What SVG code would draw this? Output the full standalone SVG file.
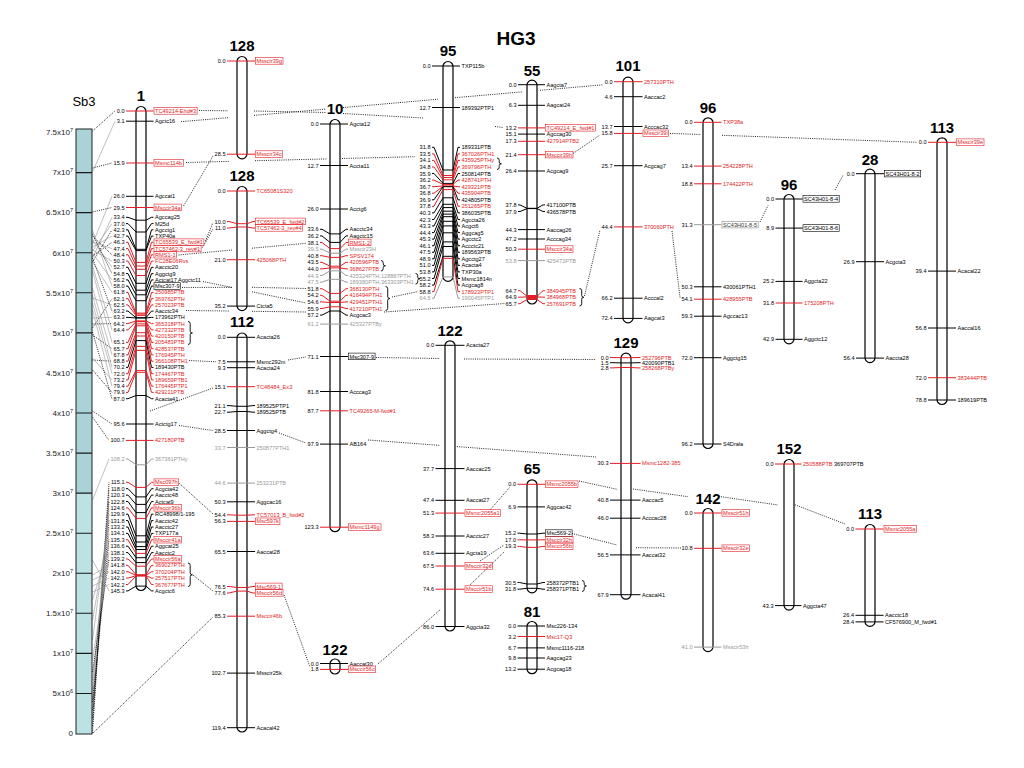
<svg xmlns="http://www.w3.org/2000/svg" width="1024" height="768" viewBox="0 0 1024 768">
<style>
text{font-family:"Liberation Sans",Arial,Helvetica,sans-serif;fill:#000}
.t{font-size:15px;font-weight:bold;text-anchor:middle}
.n{font-size:5.6px;text-anchor:end}
.m{font-size:5.6px}
.tr{fill:#e31e25}
.tg{fill:#999}
.b{fill:#fff;stroke:#000;stroke-width:1.2}
.k{fill:none;stroke:#000;stroke-width:1}
.k.r{stroke:#e31e25}
.k.g{stroke:#999}
.x{fill:none;stroke:#e31e25;stroke-width:0.6}
.xb{fill:none;stroke:#000;stroke-width:0.6}
.xg{fill:none;stroke:#888;stroke-width:0.6}
.c{fill:none;stroke:#000;stroke-width:0.85;stroke-dasharray:1 1.2}
.s{fill:none;stroke:#8c8c8c;stroke-width:0.55}
.br{fill:none;stroke:#000;stroke-width:0.9}
.ax{font-size:8px;text-anchor:end;fill:#222}
.ax tspan{font-size:5.5px}
</style>
<rect width="1024" height="768" fill="#fff"/>
<text x="516" y="45" style="font-size:19px;font-weight:bold;text-anchor:middle">HG3</text>

<g id="connectors">
<path class="c" d="M92.5,131L115,111"/>
<path class="s" d="M92.5,172L115,121.2"/>
<path class="c" d="M92.5,168L112,163"/>
<path class="s" d="M92.5,244L112,196.3"/>
<path class="c" d="M92.5,212L112,207.5"/>
<path class="s" d="M92.5,258L112,217.3M92.5,251L112,223.6"/>
<path class="c" d="M92.5,262L112,229.8"/>
<path class="s" d="M92.5,247L112,236.1"/>
<path class="c" d="M92.5,256L112,242.3"/>
<path class="s" d="M92.5,242L112,248.6"/>
<path class="c" d="M92.5,236L112,254.8"/>
<path class="s" d="M92.5,250L112,261.1M92.5,240L112,267.3"/>
<path class="c" d="M92.5,234L112,273.6"/>
<path class="s" d="M92.5,253L112,279.9M92.5,230L112,286.1M92.5,262L112,292.4"/>
<path class="c" d="M92.5,328L112,298.6"/>
<path class="s" d="M92.5,298L112,304.9"/>
<path class="c" d="M92.5,258L112,311.1"/>
<path class="s" d="M92.5,318L112,317.4"/>
<path class="c" d="M92.5,324L112,323.6"/>
<path class="s" d="M92.5,266L112,329.9M92.5,271L112,342.4"/>
<path class="c" d="M92.5,335L112,348.7"/>
<path class="s" d="M92.5,288L112,354.9"/>
<path class="c" d="M92.5,360L112,361.2"/>
<path class="s" d="M92.5,295L112,367.4M92.5,303L112,373.7M92.5,358L112,379.9M92.5,310L112,386.2"/>
<path class="c" d="M92.5,370L112,392.4M92.5,332L112,398.7M92.5,411L112,424M92.5,417L109,440.4"/>
<path class="s" d="M92.5,500L109,459"/>
<path class="c" d="M92.5,733L109,482.3M92.5,726L109,488.7"/>
<path class="s" d="M92.5,700L109,495.1"/>
<path class="c" d="M92.5,718L109,501.5"/>
<path class="s" d="M92.5,690L109,507.9M92.5,640L109,514.2"/>
<path class="c" d="M92.5,710L109,520.6"/>
<path class="s" d="M92.5,620L109,527M92.5,680L109,533.4"/>
<path class="c" d="M92.5,702L109,539.8"/>
<path class="s" d="M92.5,600L109,546.2M92.5,660L109,552.6"/>
<path class="c" d="M92.5,672L109,559"/>
<path class="s" d="M92.5,575L109,565.3M92.5,580L109,571.7M92.5,586L109,578.1M92.5,592L109,584.5M92.5,560L109,590.9"/>

<path class="c" d="M199,110.5L228,110.8M254,111L326,112.5M343,113.5L423,118M495,126.5L503,127.5"/>
<path class="c" d="M181,121.7L229,117.6M254,115.4L326,109.1M343,107.6L438,99.2M455,97.7L522,91.9M540,90.3L603,84.8"/>
<path class="c" d="M183.5,206L213,156"/>
<path class="c" d="M186,162.5L229,161.4M255,160.7L327,158.9M342,158.5L415,156.7"/>
<path class="c" d="M205.5,241L213,222.5"/>
<path class="c" d="M202.5,247.5L213,229"/>
<path class="c" d="M178.5,255L232,250M252,248.2L306,243.3"/>
<path class="c" d="M203,281.5L232,287.5M252,291.8L306,303"/>
<path class="c" d="M182,287.5L232,287.3M252,287.3L306,288.5"/>
<path class="c" d="M186,310.5L229,311M252,311.3L306,312"/>
<path class="c" d="M384,312L505,303.5"/>
<path class="c" d="M392,297L418,291.6"/>
<path class="c" d="M573,153.5L600,135"/>
<path class="c" d="M670,133.4L701,134.5M722,135.3L917,142.3"/>
<path class="c" d="M672,231L680,297.5"/>
<path class="c" d="M584.5,296L600,230"/>
<path class="c" d="M760,222L768,205.5"/>
<path class="c" d="M835,190L843.5,174.5"/>
<path class="c" d="M368,440L440,445.4M457,446.6L596,457"/>
<path class="c" d="M376,357.5L440,358.5M464,359L596,359.5"/>
<path class="c" d="M189,360.5L216,361.8"/>
<path class="c" d="M288,360L306,357"/>
<path class="c" d="M150,411L213,388"/>
<path class="c" d="M179,425.5L213,430.5"/>
<path class="c" d="M279,433L306,443"/>
<path class="c" d="M179.5,483.5L213,514"/>
<path class="c" d="M193,575L213,591"/>
<path class="c" d="M284,595L310,667"/>
<path class="c" d="M93,733L213,617"/>
<path class="c" d="M378,664L441,609"/>
<path class="c" d="M490,510L510,487"/>
<path class="c" d="M480,561L504,545"/>
<path class="c" d="M470,585L504,552"/>
<path class="c" d="M579,481L617,489.3M633,489L688,496.7M721,496.7L778,505M793,504L845,524"/>
<path class="c" d="M572,533.5L617,545M636,547.7L681,548"/>
</g>

<g id="sb3">
<text x="84" y="106" style="font-size:13px;text-anchor:middle">Sb3</text>
<rect x="76" y="129" width="16" height="364" fill="#a9d3d8"/>
<rect x="76" y="493" width="16" height="241" fill="#bde2e5"/>
<path d="M76,172.6H92M76,212.6H92M76,252.7H92M76,292.8H92M76,332.9H92M76,372.9H92M76,413H92M76,453.1H92M76,493.1H92M76,533.2H92M76,573.3H92M76,613.3H92M76,653.4H92M76,693.5H92" stroke="#1a1a1a" stroke-width="1.1"/>
<rect x="76" y="129" width="16" height="605" fill="none" stroke="#222" stroke-width="1"/>
<text class="ax" x="73" y="135.3">7.5x10<tspan dy="-3">7</tspan></text>
<text class="ax" x="73" y="175.4">7x10<tspan dy="-3">7</tspan></text>
<text class="ax" x="73" y="215.4">6.5x10<tspan dy="-3">7</tspan></text>
<text class="ax" x="73" y="255.5">6x10<tspan dy="-3">7</tspan></text>
<text class="ax" x="73" y="295.6">5.5x10<tspan dy="-3">7</tspan></text>
<text class="ax" x="73" y="335.7">5x10<tspan dy="-3">7</tspan></text>
<text class="ax" x="73" y="375.7">4.5x10<tspan dy="-3">7</tspan></text>
<text class="ax" x="73" y="415.8">4x10<tspan dy="-3">7</tspan></text>
<text class="ax" x="73" y="455.9">3.5x10<tspan dy="-3">7</tspan></text>
<text class="ax" x="73" y="495.9">3x10<tspan dy="-3">7</tspan></text>
<text class="ax" x="73" y="536">2.5x10<tspan dy="-3">7</tspan></text>
<text class="ax" x="73" y="576.1">2x10<tspan dy="-3">7</tspan></text>
<text class="ax" x="73" y="616.1">1.5x10<tspan dy="-3">7</tspan></text>
<text class="ax" x="73" y="656.2">1x10<tspan dy="-3">7</tspan></text>
<text class="ax" x="73" y="696.3">5x10<tspan dy="-3">6</tspan></text>
<text class="ax" x="73" y="736.3">0</text>
</g>

<g id="chr1">
<rect class="b" x="136" y="106.5" width="10" height="484" rx="5"/>
<text class="t" x="141" y="101">1</text>
<path class="k r" d="M126,111H153.5"/><text class="n" x="124.5" y="113">0.0</text><text class="m tr" x="155" y="113">TC49214-Ehd#3</text><rect class="x" x="154" y="107.6" width="43.1" height="6.6"/>
<path class="k" d="M126,121.2H153.5"/><text class="n" x="124.5" y="123.2">3.1</text><text class="m" x="155" y="123.2">Agctc16</text>
<path class="k r" d="M126,163H153.5"/><text class="n" x="124.5" y="165">15.9</text><text class="m tr" x="155" y="165">Msmc114b</text><rect class="x" x="154" y="159.6" width="29.4" height="6.6"/>
<path class="k" d="M126,196.3H153.5"/><text class="n" x="124.5" y="198.3">26.0</text><text class="m" x="155" y="198.3">Agccat1</text>
<path class="k r" d="M126,207.5H153.5"/><text class="n" x="124.5" y="209.5">29.5</text><text class="m tr" x="155" y="209.5">Msccir34a</text><rect class="x" x="154" y="204.1" width="27.5" height="6.6"/>
<path class="k" d="M126,217.3H128L136,220.2H146L151.5,217.3H153.5"/><text class="n" x="124.5" y="219.3">33.4</text><text class="m" x="155" y="219.3">Agccag25</text>
<path class="k" d="M126,223.6H128L136,232H146L151.5,223.6H153.5"/><text class="n" x="124.5" y="225.6">37.0</text><text class="m" x="155" y="225.6">M25d</text>
<path class="k" d="M126,229.8H128L136,249.3H146L151.5,229.8H153.5"/><text class="n" x="124.5" y="231.8">42.3</text><text class="m" x="155" y="231.8">Agcctg1</text>
<path class="k" d="M126,236.1H128L136,250.6H146L151.5,236.1H153.5"/><text class="n" x="124.5" y="238.1">42.7</text><text class="m" x="155" y="238.1">TXP40a</text>
<path class="k r" d="M126,242.3H128L136,262.4H146L151.5,242.3H153.5"/><text class="n" x="124.5" y="244.3">46.3</text><text class="m tr" x="155" y="244.3">TC65539_E_fwd#1</text><rect class="x" x="154" y="238.9" width="49.9" height="6.6"/>
<path class="k r" d="M126,248.6H128L136,266H146L151.5,248.6H153.5"/><text class="n" x="124.5" y="250.6">47.4</text><text class="m tr" x="155" y="250.6">TC57462-3_rev#1</text><rect class="x" x="154" y="245.2" width="47.1" height="6.6"/>
<path class="k r" d="M126,254.8H128L136,269.3H146L151.5,254.8H153.5"/><text class="n" x="124.5" y="256.8">48.4</text><text class="m tr" x="155" y="256.8">RMS1-1</text><rect class="x" x="154" y="251.4" width="22.5" height="6.6"/>
<path class="k r" d="M126,261.1H128L136,275.5H146L151.5,261.1H153.5"/><text class="n" x="124.5" y="263.1">50.3</text><text class="m tr" x="155" y="263.1">FC28E06Rvs</text>
<path class="k" d="M126,267.3H128L136,283.3H146L151.5,267.3H153.5"/><text class="n" x="124.5" y="269.3">52.7</text><text class="m" x="155" y="269.3">Aacctc20</text>
<path class="k" d="M126,273.6H128L136,290.2H146L151.5,273.6H153.5"/><text class="n" x="124.5" y="275.6">54.8</text><text class="m" x="155" y="275.6">Aggctg9</text>
<path class="k" d="M126,279.9H128L136,294.8H146L151.5,279.9H153.5"/><text class="n" x="124.5" y="281.9">56.2</text><text class="m" x="155" y="281.9">Actcat17 Aggctc11</text>
<path class="k" d="M126,286.1H128L136,300.7H146L151.5,286.1H153.5"/><text class="n" x="124.5" y="288.1">58.0</text><text class="m" x="155" y="288.1">Msc307-9</text><rect class="xb" x="154" y="282.7" width="26.6" height="6.6"/>
<path class="k r" d="M126,292.4H128L136,313.1H146L151.5,292.4H153.5"/><text class="n" x="124.5" y="294.4">61.8</text><text class="m tr" x="155" y="294.4">250985PTB</text>
<path class="k r" d="M126,298.6H128L136,314.1H146L151.5,298.6H153.5"/><text class="n" x="124.5" y="300.6">62.1</text><text class="m tr" x="155" y="300.6">369762PTH</text>
<path class="k r" d="M126,304.9H128L136,315.4H146L151.5,304.9H153.5"/><text class="n" x="124.5" y="306.9">62.5</text><text class="m tr" x="155" y="306.9">257023PTB</text>
<path class="k" d="M126,311.1H128L136,317.7H146L151.5,311.1H153.5"/><text class="n" x="124.5" y="313.1">63.2</text><text class="m" x="155" y="313.1">Aacctc34</text>
<path class="k" d="M126,317.4H128L136,318H146L151.5,317.4H153.5"/><text class="n" x="124.5" y="319.4">63.3</text><text class="m" x="155" y="319.4">173962PTH</text>
<path class="k r" d="M126,323.6H128L136,320.9H146L151.5,323.6H153.5"/><text class="n" x="124.5" y="325.6">64.2</text><text class="m tr" x="155" y="325.6">365318PTH</text>
<path class="k r" d="M126,329.9H128L136,321.6H146L151.5,329.9H153.5"/><text class="n" x="124.5" y="331.9">64.4</text><text class="m tr" x="155" y="331.9">427332PTB</text>
<path class="k r" d="M136,321.6H146L151.5,336.1H153.5"/><text class="m tr" x="155" y="338.1">420150PTB</text>
<path class="k r" d="M126,342.4H128L136,323.9H146L151.5,342.4H153.5"/><text class="n" x="124.5" y="344.4">65.1</text><text class="m tr" x="155" y="344.4">205483PTB</text>
<path class="k r" d="M126,348.7H128L136,325.8H146L151.5,348.7H153.5"/><text class="n" x="124.5" y="350.7">65.7</text><text class="m tr" x="155" y="350.7">428537PTB</text>
<path class="k r" d="M126,354.9H128L136,332.7H146L151.5,354.9H153.5"/><text class="n" x="124.5" y="356.9">67.8</text><text class="m tr" x="155" y="356.9">176945PTH</text>
<path class="k r" d="M126,361.2H128L136,336H146L151.5,361.2H153.5"/><text class="n" x="124.5" y="363.2">68.8</text><text class="m tr" x="155" y="363.2">366108PTH1</text>
<path class="k" d="M126,367.4H128L136,340.6H146L151.5,367.4H153.5"/><text class="n" x="124.5" y="369.4">70.2</text><text class="m" x="155" y="369.4">189430PTB</text>
<path class="k r" d="M126,373.7H128L136,346.4H146L151.5,373.7H153.5"/><text class="n" x="124.5" y="375.7">72.0</text><text class="m tr" x="155" y="375.7">174467PTB</text>
<path class="k r" d="M126,379.9H128L136,350.4H146L151.5,379.9H153.5"/><text class="n" x="124.5" y="381.9">73.2</text><text class="m tr" x="155" y="381.9">189659PTB1</text>
<path class="k r" d="M126,386.2H128L136,370.6H146L151.5,386.2H153.5"/><text class="n" x="124.5" y="388.2">79.4</text><text class="m tr" x="155" y="388.2">176445PTP1</text>
<path class="k r" d="M126,392.4H128L136,372.3H146L151.5,392.4H153.5"/><text class="n" x="124.5" y="394.4">79.9</text><text class="m tr" x="155" y="394.4">429211PTB</text>
<path class="k" d="M126,398.7H128L136,395.5H146L151.5,398.7H153.5"/><text class="n" x="124.5" y="400.7">87.0</text><text class="m" x="155" y="400.7">Acacta41</text>
<path class="k" d="M126,424H153.5"/><text class="n" x="124.5" y="426">95.6</text><text class="m" x="155" y="426">Actctg17</text>
<path class="k r" d="M126,440.4H153.5"/><text class="n" x="124.5" y="442.4">100.7</text><text class="m tr" x="155" y="442.4">427180PTB</text>
<path class="k g" d="M126,459H128L136,464.8H146L151.5,459H153.5"/><text class="n tg" x="124.5" y="461">108.2</text><text class="m tg" x="155" y="461">367361PTHy</text>
<path class="k r" d="M126,482.3H128L136,487.4H146L151.5,482.3H153.5"/><text class="n" x="124.5" y="484.3">115.1</text><text class="m tr" x="155" y="484.3">Msc097h</text><rect class="x" x="154" y="478.9" width="24.7" height="6.6"/>
<path class="k" d="M126,488.7H128L136,496.9H146L151.5,488.7H153.5"/><text class="n" x="124.5" y="490.7">118.0</text><text class="m" x="155" y="490.7">Acgcta42</text>
<path class="k" d="M126,495.1H128L136,504.4H146L151.5,495.1H153.5"/><text class="n" x="124.5" y="497.1">120.3</text><text class="m" x="155" y="497.1">Aacctc48</text>
<path class="k" d="M126,501.5H128L136,512.6H146L151.5,501.5H153.5"/><text class="n" x="124.5" y="503.5">122.8</text><text class="m" x="155" y="503.5">Actcat9</text>
<path class="k r" d="M126,507.9H128L136,518.4H146L151.5,507.9H153.5"/><text class="n" x="124.5" y="509.9">124.6</text><text class="m tr" x="155" y="509.9">Msccir36b</text><rect class="x" x="154" y="504.5" width="27.5" height="6.6"/>
<path class="k" d="M126,514.2H128L136,535.8H146L151.5,514.2H153.5"/><text class="n" x="124.5" y="516.2">129.9</text><text class="m" x="155" y="516.2">RC48998/1-195</text>
<path class="k" d="M126,520.6H128L136,542H146L151.5,520.6H153.5"/><text class="n" x="124.5" y="522.6">131.8</text><text class="m" x="155" y="522.6">Aacctc42</text>
<path class="k" d="M126,527H128L136,546.6H146L151.5,527H153.5"/><text class="n" x="124.5" y="529">133.2</text><text class="m" x="155" y="529">Aacctc27</text>
<path class="k" d="M126,533.4H128L136,549.5H146L151.5,533.4H153.5"/><text class="n" x="124.5" y="535.4">134.1</text><text class="m" x="155" y="535.4">TXP177a</text>
<path class="k r" d="M126,539.8H128L136,553.4H146L151.5,539.8H153.5"/><text class="n" x="124.5" y="541.8">135.3</text><text class="m tr" x="155" y="541.8">Msccir41a</text><rect class="x" x="154" y="536.4" width="27.5" height="6.6"/>
<path class="k" d="M126,546.2H128L136,557.7H146L151.5,546.2H153.5"/><text class="n" x="124.5" y="548.2">136.6</text><text class="m" x="155" y="548.2">Aggcat25</text>
<path class="k" d="M126,552.6H128L136,562.6H146L151.5,552.6H153.5"/><text class="n" x="124.5" y="554.6">138.1</text><text class="m" x="155" y="554.6">Aacctc2</text>
<path class="k r" d="M126,559H128L136,566.2H146L151.5,559H153.5"/><text class="n" x="124.5" y="561">139.2</text><text class="m tr" x="155" y="561">Msccir56a</text><rect class="x" x="154" y="555.6" width="27.5" height="6.6"/>
<path class="k r" d="M126,565.3H128L136,574.7H146L151.5,565.3H153.5"/><text class="n" x="124.5" y="567.3">141.8</text><text class="m tr" x="155" y="567.3">369027PTH</text>
<path class="k r" d="M126,571.7H128L136,575.3H146L151.5,571.7H153.5"/><text class="n" x="124.5" y="573.7">142.0</text><text class="m tr" x="155" y="573.7">370204PTH</text>
<path class="k r" d="M126,578.1H128L136,575.7H146L151.5,578.1H153.5"/><text class="n" x="124.5" y="580.1">142.1</text><text class="m tr" x="155" y="580.1">257517PTH</text>
<path class="k r" d="M126,584.5H128L136,576H146L151.5,584.5H153.5"/><text class="n" x="124.5" y="586.5">142.2</text><text class="m tr" x="155" y="586.5">367677PTH</text>
<path class="k" d="M126,590.9H128L136,586.1H146L151.5,590.9H153.5"/><text class="n" x="124.5" y="592.9">145.3</text><text class="m" x="155" y="592.9">Acgctc6</text>
<path class="br" d="M188,321.5q2.2,0 2.2,2.2V331.2q0,1.8 2.2,1.8q-2.2,0 -2.2,1.8V342.3q0,2.2 -2.2,2.2"/>
<path class="br" d="M188,563q2.2,0 2.2,2.2V573q0,1.8 2.2,1.8q-2.2,0 -2.2,1.8V584.3q0,2.2 -2.2,2.2"/>
</g>

<g id="chr128a">
<rect class="b" x="237" y="56.5" width="10" height="102.3" rx="5"/>
<text class="t" x="242" y="51">128</text>
<path class="k r" d="M227,61H255"/><text class="n" x="225.5" y="63">0.0</text><text class="m tr" x="256.5" y="63">Msscir39g</text><rect class="x" x="255.5" y="57.6" width="27.5" height="6.6"/>
<path class="k r" d="M227,154.2H255"/><text class="n" x="225.5" y="156.2">28.5</text><text class="m tr" x="256.5" y="156.2">Msscir34c</text><rect class="x" x="255.5" y="150.8" width="27.2" height="6.6"/>
</g>

<g id="chr128b">
<rect class="b" x="237" y="186.5" width="10" height="124.1" rx="5"/>
<text class="t" x="242" y="181">128</text>
<path class="k r" d="M227,191H255"/><text class="n" x="225.5" y="193">0.0</text><text class="m tr" x="256.5" y="193">TC65081S320</text>
<path class="k r" d="M227,221.5H229L237,223.7H247L253,221.5H255"/><text class="n" x="225.5" y="223.5">10.0</text><text class="m tr" x="256.5" y="223.5">TC65539_E_fwd#2</text><rect class="x" x="255.5" y="218.1" width="49.9" height="6.6"/>
<path class="k r" d="M227,228H229L237,227H247L253,228H255"/><text class="n" x="225.5" y="230">11.0</text><text class="m tr" x="256.5" y="230">TC57462-3_rev#4</text><rect class="x" x="255.5" y="224.6" width="47.1" height="6.6"/>
<path class="k r" d="M227,259.7H255"/><text class="n" x="225.5" y="261.7">21.0</text><text class="m tr" x="256.5" y="261.7">425068PTH</text>
<path class="k" d="M227,306.1H255"/><text class="n" x="225.5" y="308.1">35.2</text><text class="m" x="256.5" y="308.1">Ctcta5</text>
</g>

<g id="chr112">
<rect class="b" x="237" y="333" width="10" height="399" rx="5"/>
<text class="t" x="242" y="327">112</text>
<path class="k" d="M227,337.3H255"/><text class="n" x="225.5" y="339.3">0.0</text><text class="m" x="256.5" y="339.3">Acacta26</text>
<path class="k" d="M227,361.8H255"/><text class="n" x="225.5" y="363.8">7.5</text><text class="m" x="256.5" y="363.8">Msmc292m</text>
<path class="k" d="M227,367.7H255"/><text class="n" x="225.5" y="369.7">9.3</text><text class="m" x="256.5" y="369.7">Acacta24</text>
<path class="k r" d="M227,386.7H255"/><text class="n" x="225.5" y="388.7">15.1</text><text class="m tr" x="256.5" y="388.7">TC48484_Ex3</text>
<path class="k" d="M227,405.6H229L237,406.3H247L253,405.6H255"/><text class="n" x="225.5" y="407.6">21.1</text><text class="m" x="256.5" y="407.6">189525PTP1</text>
<path class="k" d="M227,412.2H229L237,411.5H247L253,412.2H255"/><text class="n" x="225.5" y="414.2">22.7</text><text class="m" x="256.5" y="414.2">189525PTB</text>
<path class="k" d="M227,430.5H255"/><text class="n" x="225.5" y="432.5">28.5</text><text class="m" x="256.5" y="432.5">Aggctg4</text>
<path class="k g" d="M227,447.5H255"/><text class="n tg" x="225.5" y="449.5">33.7</text><text class="m tg" x="256.5" y="449.5">250877PTH1</text>
<path class="k g" d="M227,483.1H255"/><text class="n tg" x="225.5" y="485.1">44.6</text><text class="m tg" x="256.5" y="485.1">253231PTB</text>
<path class="k" d="M227,501.8H255"/><text class="n" x="225.5" y="503.8">50.3</text><text class="m" x="256.5" y="503.8">Aggcac16</text>
<path class="k r" d="M227,514.8H229L237,515.2H247L253,514.8H255"/><text class="n" x="225.5" y="516.8">54.4</text><text class="m tr" x="256.5" y="516.8">TC57013_B_fwd#2</text>
<path class="k r" d="M227,521.4H255"/><text class="n" x="225.5" y="523.4">56.3</text><text class="m tr" x="256.5" y="523.4">Msc597k</text><rect class="x" x="255.5" y="518" width="24.4" height="6.6"/>
<path class="k" d="M227,551.5H255"/><text class="n" x="225.5" y="553.5">65.5</text><text class="m" x="256.5" y="553.5">Aaccat28</text>
<path class="k r" d="M227,586.5H229L237,587.5H247L253,586.5H255"/><text class="n" x="225.5" y="588.5">76.5</text><text class="m tr" x="256.5" y="588.5">Msc569-1</text><rect class="x" x="255.5" y="583.1" width="26.6" height="6.6"/>
<path class="k r" d="M227,593H229L237,591.1H247L253,593H255"/><text class="n" x="225.5" y="595">77.6</text><text class="m tr" x="256.5" y="595">Msccir56d</text><rect class="x" x="255.5" y="589.6" width="27.5" height="6.6"/>
<path class="k r" d="M227,616.2H255"/><text class="n" x="225.5" y="618.2">85.3</text><text class="m tr" x="256.5" y="618.2">Msccir46b</text>
<path class="k" d="M227,673.1H255"/><text class="n" x="225.5" y="675.1">102.7</text><text class="m" x="256.5" y="675.1">Msscir25k</text>
<path class="k" d="M227,727.7H255"/><text class="n" x="225.5" y="729.7">119.4</text><text class="m" x="256.5" y="729.7">Acacal42</text>
</g>

<g id="chr10">
<rect class="b" x="330" y="119.5" width="10" height="412.2" rx="5"/>
<text class="t" x="335" y="114">10</text>
<path class="k" d="M320,124H348"/><text class="n" x="318.5" y="126">0.0</text><text class="m" x="349.5" y="126">Agcta12</text>
<path class="k" d="M320,165.5H348"/><text class="n" x="318.5" y="167.5">12.7</text><text class="m" x="349.5" y="167.5">Accta11</text>
<path class="k" d="M320,209H348"/><text class="n" x="318.5" y="211">26.0</text><text class="m" x="349.5" y="211">Acctg6</text>
<path class="k" d="M320,229.3H322L330,233.9H340L346,229.3H348"/><text class="n" x="318.5" y="231.3">33.6</text><text class="m" x="349.5" y="231.3">Aacctc34</text>
<path class="k" d="M320,235.9H322L330,242.4H340L346,235.9H348"/><text class="n" x="318.5" y="237.9">36.2</text><text class="m" x="349.5" y="237.9">Aagctc15</text>
<path class="k r" d="M320,242.5H322L330,248.6H340L346,242.5H348"/><text class="n" x="318.5" y="244.5">38.1</text><text class="m tr" x="349.5" y="244.5">RMS1-2</text><rect class="x" x="348.5" y="239.1" width="22.5" height="6.6"/>
<path class="k g" d="M320,249.1H322L330,253.2H340L346,249.1H348"/><text class="n tg" x="318.5" y="251.1">39.5</text><text class="m tg" x="349.5" y="251.1">Msscir23H</text>
<path class="k r" d="M320,255.7H322L330,257.4H340L346,255.7H348"/><text class="n" x="318.5" y="257.7">40.8</text><text class="m tr" x="349.5" y="257.7">SPSV174</text>
<path class="k r" d="M320,262.3H322L330,266.2H340L346,262.3H348"/><text class="n" x="318.5" y="264.3">43.5</text><text class="m tr" x="349.5" y="264.3">420596PTB</text>
<path class="k r" d="M320,268.9H322L330,267.9H340L346,268.9H348"/><text class="n" x="318.5" y="270.9">44.0</text><text class="m tr" x="349.5" y="270.9">368627PTB</text>
<path class="k g" d="M320,275.5H322L330,270.8H340L346,275.5H348"/><text class="n tg" x="318.5" y="277.5">44.9</text><text class="m tg" x="349.5" y="277.5">435324PTH,128887PTH</text>
<path class="k g" d="M320,282.1H322L330,279.3H340L346,282.1H348"/><text class="n tg" x="318.5" y="284.1">47.5</text><text class="m tg" x="349.5" y="284.1">189380PTH,363303PTH1</text>
<path class="k r" d="M320,288.7H322L330,293.4H340L346,288.7H348"/><text class="n" x="318.5" y="290.7">51.8</text><text class="m tr" x="349.5" y="290.7">368130PTH</text>
<path class="k r" d="M320,295.3H322L330,301.2H340L346,295.3H348"/><text class="n" x="318.5" y="297.3">54.2</text><text class="m tr" x="349.5" y="297.3">416494PTH1</text>
<path class="k r" d="M320,301.9H322L330,302.5H340L346,301.9H348"/><text class="n" x="318.5" y="303.9">54.6</text><text class="m tr" x="349.5" y="303.9">429451PTH1</text>
<path class="k r" d="M320,308.5H322L330,306.8H340L346,308.5H348"/><text class="n" x="318.5" y="310.5">55.9</text><text class="m tr" x="349.5" y="310.5">417210PTH1</text>
<path class="k" d="M320,315.1H322L330,311H340L346,315.1H348"/><text class="n" x="318.5" y="317.1">57.2</text><text class="m" x="349.5" y="317.1">Acgcac3</text>
<path class="k g" d="M320,324.1H348"/><text class="n tg" x="318.5" y="326.1">61.2</text><text class="m tg" x="349.5" y="326.1">425327PTBy</text>
<path class="k" d="M320,356.5H348"/><text class="n" x="318.5" y="358.5">71.1</text><text class="m" x="349.5" y="358.5">Msc307-9</text><rect class="xb" x="348.5" y="353.1" width="26.6" height="6.6"/>
<path class="k" d="M320,391.5H348"/><text class="n" x="318.5" y="393.5">81.8</text><text class="m" x="349.5" y="393.5">Acccag3</text>
<path class="k r" d="M320,410.8H348"/><text class="n" x="318.5" y="412.8">87.7</text><text class="m tr" x="349.5" y="412.8">TC49265-M-fwd#1</text>
<path class="k" d="M320,444.1H348"/><text class="n" x="318.5" y="446.1">97.9</text><text class="m" x="349.5" y="446.1">AB164</text>
<path class="k r" d="M320,527.2H348"/><text class="n" x="318.5" y="529.2">123.3</text><text class="m tr" x="349.5" y="529.2">Msmc1149g</text><rect class="x" x="348.5" y="523.8" width="32.5" height="6.6"/>
<path class="br" d="M381,260.5q2.2,0 2.2,2.2V264q0,1.8 2.2,1.8q-2.2,0 -2.2,1.8V268.8q0,2.2 -2.2,2.2"/>
<path class="br" d="M415.5,273.5q2.2,0 2.2,2.2V277q0,1.8 2.2,1.8q-2.2,0 -2.2,1.8V281.8q0,2.2 -2.2,2.2"/>
<path class="br" d="M385.5,286.5q2.2,0 2.2,2.2V296.7q0,1.8 2.2,1.8q-2.2,0 -2.2,1.8V308.3q0,2.2 -2.2,2.2"/>
</g>

<g id="chr122s">
<rect class="b" x="330" y="659" width="10" height="15" rx="5"/>
<text class="t" x="335" y="655">122</text>
<path class="k" d="M320,663.5H348"/><text class="n" x="318.5" y="665.5">0.0</text><text class="m" x="349.5" y="665.5">Aaccat30</text>
<path class="k r" d="M320,669.4H348"/><text class="n" x="318.5" y="671.4">1.8</text><text class="m tr" x="349.5" y="671.4">Msccir56c</text><rect class="x" x="348.5" y="666" width="27.2" height="6.6"/>
</g>

<g id="chr95">
<rect class="b" x="443" y="61.5" width="10" height="219.9" rx="5"/>
<text class="t" x="448" y="56">95</text>
<path class="k" d="M432,66H460"/><text class="n" x="430.5" y="68">0.0</text><text class="m" x="461.5" y="68">TXP115b</text>
<path class="k" d="M432,107.5H460"/><text class="n" x="430.5" y="109.5">12.7</text><text class="m" x="461.5" y="109.5">189392PTP1</text>
<path class="k" d="M432,147.3H434L443,170H453L458,147.3H460"/><text class="n" x="430.5" y="149.3">31.8</text><text class="m" x="461.5" y="149.3">189331PTB</text>
<path class="k r" d="M432,153.9H434L443,175.5H453L458,153.9H460"/><text class="n" x="430.5" y="155.9">33.5</text><text class="m tr" x="461.5" y="155.9">367026PTH1</text>
<path class="k r" d="M432,160.4H434L443,177.5H453L458,160.4H460"/><text class="n" x="430.5" y="162.4">34.1</text><text class="m tr" x="461.5" y="162.4">435925PTHy</text>
<path class="k r" d="M432,167H434L443,179.8H453L458,167H460"/><text class="n" x="430.5" y="169">34.8</text><text class="m tr" x="461.5" y="169">369796PTH</text>
<path class="k" d="M432,173.5H434L443,183.4H453L458,173.5H460"/><text class="n" x="430.5" y="175.5">35.9</text><text class="m" x="461.5" y="175.5">250814PTB</text>
<path class="k r" d="M432,180.1H434L443,184.4H453L458,180.1H460"/><text class="n" x="430.5" y="182.1">36.2</text><text class="m tr" x="461.5" y="182.1">428741PTH</text>
<path class="k r" d="M432,186.7H434L443,186H453L458,186.7H460"/><text class="n" x="430.5" y="188.7">36.7</text><text class="m tr" x="461.5" y="188.7">429321PTB</text>
<path class="k r" d="M432,193.2H434L443,186.3H453L458,193.2H460"/><text class="n" x="430.5" y="195.2">36.8</text><text class="m tr" x="461.5" y="195.2">435904PTB</text>
<path class="k" d="M432,199.8H434L443,186.7H453L458,199.8H460"/><text class="n" x="430.5" y="201.8">36.9</text><text class="m" x="461.5" y="201.8">424805PTB</text>
<path class="k r" d="M432,206.3H434L443,189.6H453L458,206.3H460"/><text class="n" x="430.5" y="208.3">37.8</text><text class="m tr" x="461.5" y="208.3">251265PTB</text>
<path class="k" d="M432,212.9H434L443,197.8H453L458,212.9H460"/><text class="n" x="430.5" y="214.9">40.3</text><text class="m" x="461.5" y="214.9">386035PTB</text>
<path class="k" d="M432,219.5H434L443,204.3H453L458,219.5H460"/><text class="n" x="430.5" y="221.5">42.3</text><text class="m" x="461.5" y="221.5">Agccta26</text>
<path class="k" d="M432,226H434L443,207.6H453L458,226H460"/><text class="n" x="430.5" y="228">43.3</text><text class="m" x="461.5" y="228">Acgct6</text>
<path class="k" d="M432,232.6H434L443,211.2H453L458,232.6H460"/><text class="n" x="430.5" y="234.6">44.4</text><text class="m" x="461.5" y="234.6">Aggcag5</text>
<path class="k" d="M432,239.1H434L443,214.1H453L458,239.1H460"/><text class="n" x="430.5" y="241.1">45.3</text><text class="m" x="461.5" y="241.1">Agcctc2</text>
<path class="k" d="M432,245.7H434L443,216.7H453L458,245.7H460"/><text class="n" x="430.5" y="247.7">46.1</text><text class="m" x="461.5" y="247.7">Accctc21</text>
<path class="k" d="M432,252.3H434L443,221.3H453L458,252.3H460"/><text class="n" x="430.5" y="254.3">47.5</text><text class="m" x="461.5" y="254.3">189563PTB</text>
<path class="k" d="M432,258.8H434L443,225.9H453L458,258.8H460"/><text class="n" x="430.5" y="260.8">48.9</text><text class="m" x="461.5" y="260.8">Agcctg27</text>
<path class="k" d="M432,265.4H434L443,232.8H453L458,265.4H460"/><text class="n" x="430.5" y="267.4">51.0</text><text class="m" x="461.5" y="267.4">Acacta4</text>
<path class="k" d="M432,271.9H434L443,241.9H453L458,271.9H460"/><text class="n" x="430.5" y="273.9">53.8</text><text class="m" x="461.5" y="273.9">TXP30a</text>
<path class="k" d="M432,278.5H434L443,246.5H453L458,278.5H460"/><text class="n" x="430.5" y="280.5">55.2</text><text class="m" x="461.5" y="280.5">Msmc1814n</text>
<path class="k" d="M432,285.1H434L443,256.3H453L458,285.1H460"/><text class="n" x="430.5" y="287.1">58.2</text><text class="m" x="461.5" y="287.1">Acgcag8</text>
<path class="k r" d="M432,291.6H434L443,258.3H453L458,291.6H460"/><text class="n" x="430.5" y="293.6">58.8</text><text class="m tr" x="461.5" y="293.6">178923PTP1</text>
<path class="k g" d="M432,298.2H434L443,276.9H453L458,298.2H460"/><text class="n tg" x="430.5" y="300.2">64.5</text><text class="m tg" x="461.5" y="300.2">190045PTP1</text>
<path class="br" d="M497,158q2.2,0 2.2,2.2V162q0,1.8 2.2,1.8q-2.2,0 -2.2,1.8V167.3q0,2.2 -2.2,2.2"/>
</g>

<g id="chr55">
<rect class="b" x="527" y="80.2" width="10" height="223.8" rx="5"/>
<text class="t" x="532" y="76">55</text>
<path class="k" d="M518,84.7H545"/><text class="n" x="516.5" y="86.7">0.0</text><text class="m" x="546.5" y="86.7">Aagcta7</text>
<path class="k" d="M518,105.3H545"/><text class="n" x="516.5" y="107.3">6.3</text><text class="m" x="546.5" y="107.3">Aagcat24</text>
<path class="k r" d="M518,127.9H545"/><text class="n" x="516.5" y="129.9">13.2</text><text class="m tr" x="546.5" y="129.9">TC49214_E_fwd#1</text><rect class="x" x="545.5" y="124.5" width="49.9" height="6.6"/>
<path class="k" d="M518,134.1H545"/><text class="n" x="516.5" y="136.1">15.1</text><text class="m" x="546.5" y="136.1">Agccag30</text>
<path class="k r" d="M518,141.3H545"/><text class="n" x="516.5" y="143.3">17.3</text><text class="m tr" x="546.5" y="143.3">427914PTB2</text>
<path class="k r" d="M518,154.7H545"/><text class="n" x="516.5" y="156.7">21.4</text><text class="m tr" x="546.5" y="156.7">Msccir39h</text><rect class="x" x="545.5" y="151.3" width="27.5" height="6.6"/>
<path class="k" d="M518,171H545"/><text class="n" x="516.5" y="173">26.4</text><text class="m" x="546.5" y="173">Acgcag9</text>
<path class="k" d="M518,204.9H520L527,208.3H537L543,204.9H545"/><text class="n" x="516.5" y="206.9">37.8</text><text class="m" x="546.5" y="206.9">417100PTB</text>
<path class="k" d="M518,211.5H520L527,208.6H537L543,211.5H545"/><text class="n" x="516.5" y="213.5">37.9</text><text class="m" x="546.5" y="213.5">436578PTB</text>
<path class="k" d="M518,229.6H545"/><text class="n" x="516.5" y="231.6">44.3</text><text class="m" x="546.5" y="231.6">Aaccag26</text>
<path class="k" d="M518,239H545"/><text class="n" x="516.5" y="241">47.2</text><text class="m" x="546.5" y="241">Acccag34</text>
<path class="k r" d="M518,249.2H545"/><text class="n" x="516.5" y="251.2">50.3</text><text class="m tr" x="546.5" y="251.2">Msccir34a</text><rect class="x" x="545.5" y="245.8" width="27.5" height="6.6"/>
<path class="k g" d="M518,260.6H545"/><text class="n tg" x="516.5" y="262.6">53.8</text><text class="m tg" x="546.5" y="262.6">425473PTB</text>
<rect x="527.5" y="295" width="9" height="5" fill="#e31e25"/>
<path class="k r" d="M518,290.7H520L527,296.3H537L543,290.7H545"/><text class="n" x="516.5" y="292.7">64.7</text><text class="m tr" x="546.5" y="292.7">384945PTB</text>
<path class="k r" d="M518,297.2H520L527,296.9H537L543,297.2H545"/><text class="n" x="516.5" y="299.2">64.9</text><text class="m tr" x="546.5" y="299.2">384968PTB</text>
<path class="k r" d="M518,303.7H520L527,299.5H537L543,303.7H545"/><text class="n" x="516.5" y="305.7">65.7</text><text class="m tr" x="546.5" y="305.7">257691PTB</text>
<path class="br" d="M579.5,288.5q2.2,0 2.2,2.2V295.5q0,1.8 2.2,1.8q-2.2,0 -2.2,1.8V303.8q0,2.2 -2.2,2.2"/>
</g>

<g id="chr101">
<rect class="b" x="623" y="77.2" width="10" height="245.7" rx="5"/>
<text class="t" x="628" y="71">101</text>
<path class="k r" d="M614,81.7H642.5"/><text class="n" x="612.5" y="83.7">0.0</text><text class="m tr" x="644" y="83.7">257310PTH</text>
<path class="k" d="M614,96.7H642.5"/><text class="n" x="612.5" y="98.7">4.6</text><text class="m" x="644" y="98.7">Aaccac2</text>
<path class="k" d="M614,126.5H642.5"/><text class="n" x="612.5" y="128.5">13.7</text><text class="m" x="644" y="128.5">Acccac32</text>
<path class="k r" d="M614,133.4H642.5"/><text class="n" x="612.5" y="135.4">15.8</text><text class="m tr" x="644" y="135.4">Msscir39i</text><rect class="x" x="643" y="130" width="25.6" height="6.6"/>
<path class="k" d="M614,165.7H642.5"/><text class="n" x="612.5" y="167.7">25.7</text><text class="m" x="644" y="167.7">Acgcag7</text>
<path class="k r" d="M614,226.9H642.5"/><text class="n" x="612.5" y="228.9">44.4</text><text class="m tr" x="644" y="228.9">370060PTH</text>
<path class="k" d="M614,298.2H642.5"/><text class="n" x="612.5" y="300.2">66.2</text><text class="m" x="644" y="300.2">Acccal2</text>
<path class="k" d="M614,318.4H642.5"/><text class="n" x="612.5" y="320.4">72.4</text><text class="m" x="644" y="320.4">Aagcat3</text>
</g>

<g id="chr96a">
<rect class="b" x="703" y="117.8" width="10" height="330.7" rx="5"/>
<text class="t" x="708" y="113">96</text>
<path class="k r" d="M694,122.3H721.5"/><text class="n" x="692.5" y="124.3">0.0</text><text class="m tr" x="723" y="124.3">TXP38a</text>
<path class="k r" d="M694,166.1H721.5"/><text class="n" x="692.5" y="168.1">13.4</text><text class="m tr" x="723" y="168.1">254228PTH</text>
<path class="k r" d="M694,183.8H721.5"/><text class="n" x="692.5" y="185.8">18.8</text><text class="m tr" x="723" y="185.8">174422PTH</text>
<path class="k g" d="M694,224.7H721.5"/><text class="n" x="692.5" y="226.7">31.3</text><text class="m" x="723" y="226.7" style="fill:#333">SC43H01-8-5</text><rect class="xg" x="722" y="221.3" width="36.2" height="6.6"/>
<path class="k" d="M694,286.8H721.5"/><text class="n" x="692.5" y="288.8">50.3</text><text class="m" x="723" y="288.8">430061PTH1</text>
<path class="k r" d="M694,299.2H721.5"/><text class="n" x="692.5" y="301.2">54.1</text><text class="m tr" x="723" y="301.2">428955PTB</text>
<path class="k" d="M694,316.2H721.5"/><text class="n" x="692.5" y="318.2">59.3</text><text class="m" x="723" y="318.2">Agccac13</text>
<path class="k" d="M694,357.7H721.5"/><text class="n" x="692.5" y="359.7">72.0</text><text class="m" x="723" y="359.7">Aggctg15</text>
<path class="k" d="M694,444H721.5"/><text class="n" x="692.5" y="446">96.2</text><text class="m" x="723" y="446">S4Drala</text>
</g>

<g id="chr96b">
<rect class="b" x="784" y="194.5" width="10" height="149.3" rx="5"/>
<text class="t" x="789" y="189.5">96</text>
<path class="k" d="M775.5,199H802.5"/><text class="n" x="774" y="201">0.0</text><text class="m" x="804" y="201">SC43H01-8-4</text><rect class="xb" x="803" y="195.6" width="36.2" height="6.6"/>
<path class="k" d="M775.5,228.1H802.5"/><text class="n" x="774" y="230.1">8.9</text><text class="m" x="804" y="230.1">SC43H01-8-6</text><rect class="xb" x="803" y="224.7" width="36.2" height="6.6"/>
<path class="k" d="M775.5,281.4H802.5"/><text class="n" x="774" y="283.4">25.2</text><text class="m" x="804" y="283.4">Aggcta22</text>
<path class="k r" d="M775.5,303H802.5"/><text class="n" x="774" y="305">31.8</text><text class="m tr" x="804" y="305">175208PTH</text>
<path class="k" d="M775.5,339.3H802.5"/><text class="n" x="774" y="341.3">42.9</text><text class="m" x="804" y="341.3">Aggctc12</text>
</g>

<g id="chr28">
<rect class="b" x="865" y="169.2" width="10" height="193.4" rx="5"/>
<text class="t" x="870" y="164.5">28</text>
<path class="k" d="M856,173.7H884"/><text class="n" x="854.5" y="175.7">0.0</text><text class="m" x="885.5" y="175.7">SC43H01-8-2</text><rect class="xb" x="884.5" y="170.3" width="36.2" height="6.6"/>
<path class="k" d="M856,261.7H884"/><text class="n" x="854.5" y="263.7">26.9</text><text class="m" x="885.5" y="263.7">Acgcta3</text>
<path class="k" d="M856,358.1H884"/><text class="n" x="854.5" y="360.1">56.4</text><text class="m" x="885.5" y="360.1">Aaccta28</text>
</g>

<g id="chr113a">
<rect class="b" x="937" y="137.8" width="10" height="266.7" rx="5"/>
<text class="t" x="942" y="133">113</text>
<path class="k r" d="M928,142.3H956"/><text class="n" x="926.5" y="144.3">0.0</text><text class="m tr" x="957.5" y="144.3">Msscir39e</text><rect class="x" x="956.5" y="138.9" width="27.5" height="6.6"/>
<path class="k" d="M928,271.1H956"/><text class="n" x="926.5" y="273.1">39.4</text><text class="m" x="957.5" y="273.1">Acacal22</text>
<path class="k" d="M928,328H956"/><text class="n" x="926.5" y="330">56.8</text><text class="m" x="957.5" y="330">Aaccal16</text>
<path class="k r" d="M928,377.7H956"/><text class="n" x="926.5" y="379.7">72.0</text><text class="m tr" x="957.5" y="379.7">383444PTB</text>
<path class="k" d="M928,400H956"/><text class="n" x="926.5" y="402">78.8</text><text class="m" x="957.5" y="402">189619PTB</text>
</g>

<g id="chr122">
<rect class="b" x="445" y="340.8" width="10" height="290.2" rx="5"/>
<text class="t" x="450" y="336">122</text>
<path class="k" d="M435.5,345.3H464.5"/><text class="n" x="434" y="347.3">0.0</text><text class="m" x="466" y="347.3">Acacta27</text>
<path class="k" d="M435.5,468.6H464.5"/><text class="n" x="434" y="470.6">37.7</text><text class="m" x="466" y="470.6">Aaccac25</text>
<path class="k" d="M435.5,500.3H464.5"/><text class="n" x="434" y="502.3">47.4</text><text class="m" x="466" y="502.3">Aaccat27</text>
<path class="k r" d="M435.5,513.1H464.5"/><text class="n" x="434" y="515.1">51.3</text><text class="m tr" x="466" y="515.1">Msmc2055a1</text><rect class="x" x="465" y="509.7" width="35.6" height="6.6"/>
<path class="k" d="M435.5,536H464.5"/><text class="n" x="434" y="538">58.3</text><text class="m" x="466" y="538">Aacctc27</text>
<path class="k" d="M435.5,553.3H464.5"/><text class="n" x="434" y="555.3">63.6</text><text class="m" x="466" y="555.3">Agcta19</text>
<path class="k r" d="M435.5,566H464.5"/><text class="n" x="434" y="568">67.5</text><text class="m tr" x="466" y="568">Msccir32d</text><rect class="x" x="465" y="562.6" width="27.5" height="6.6"/>
<path class="k r" d="M435.5,589.2H464.5"/><text class="n" x="434" y="591.2">74.6</text><text class="m tr" x="466" y="591.2">Msccir51b</text><rect class="x" x="465" y="585.8" width="27.5" height="6.6"/>
<path class="k" d="M435.5,626.5H464.5"/><text class="n" x="434" y="628.5">86.0</text><text class="m" x="466" y="628.5">Aggcta32</text>
</g>

<g id="chr65">
<rect class="b" x="527" y="479.8" width="10" height="113" rx="5"/>
<text class="t" x="532" y="474">65</text>
<path class="k r" d="M517.5,484.3H545"/><text class="n" x="516" y="486.3">0.0</text><text class="m tr" x="546.5" y="486.3">Msmc2055b</text><rect class="x" x="545.5" y="480.9" width="32.5" height="6.6"/>
<path class="k" d="M517.5,506.9H545"/><text class="n" x="516" y="508.9">6.9</text><text class="m" x="546.5" y="508.9">Aggcac42</text>
<path class="k" d="M517.5,533.2H519.5L527,534H537L543,533.2H545"/><text class="n" x="516" y="535.2">15.2</text><text class="m" x="546.5" y="535.2">Msc569-2</text><rect class="xb" x="545.5" y="529.8" width="26.6" height="6.6"/>
<path class="k r" d="M517.5,539.8H519.5L527,539.9H537L543,539.8H545"/><text class="n" x="516" y="541.8">17.0</text><text class="m tr" x="546.5" y="541.8">Msccir32h</text><rect class="x" x="545.5" y="536.4" width="27.5" height="6.6"/>
<path class="k r" d="M517.5,546.4H519.5L527,547.4H537L543,546.4H545"/><text class="n" x="516" y="548.4">19.3</text><text class="m tr" x="546.5" y="548.4">Msccir56b</text><rect class="x" x="545.5" y="543" width="27.5" height="6.6"/>
<path class="k" d="M517.5,582.5H519.5L527,584H537L543,582.5H545"/><text class="n" x="516" y="584.5">30.5</text><text class="m" x="546.5" y="584.5">258372PTB1</text>
<path class="k" d="M517.5,589.2H519.5L527,588.3H537L543,589.2H545"/><text class="n" x="516" y="591.2">31.8</text><text class="m" x="546.5" y="591.2">258371PTB1</text>
<path class="br" d="M582,580.5q2.2,0 2.2,2.2V584.2q0,1.8 2.2,1.8q-2.2,0 -2.2,1.8V589.3q0,2.2 -2.2,2.2"/>
</g>

<g id="chr81">
<rect class="b" x="527" y="621.5" width="10" height="52.2" rx="5"/>
<text class="t" x="532" y="616.5">81</text>
<path class="k" d="M517.5,626H545"/><text class="n" x="516" y="628">0.0</text><text class="m" x="546.5" y="628">Msc226-134</text>
<path class="k r" d="M517.5,636.5H545"/><text class="n" x="516" y="638.5">3.2</text><text class="m tr" x="546.5" y="638.5">Msc17-Q3</text>
<path class="k" d="M517.5,647.9H545"/><text class="n" x="516" y="649.9">6.7</text><text class="m" x="546.5" y="649.9">Msmc1116-218</text>
<path class="k" d="M517.5,658H545"/><text class="n" x="516" y="660">9.8</text><text class="m" x="546.5" y="660">Aagcag23</text>
<path class="k" d="M517.5,669.2H545"/><text class="n" x="516" y="671.2">13.2</text><text class="m" x="546.5" y="671.2">Acgcag18</text>
</g>

<g id="chr129">
<rect class="b" x="621" y="353.2" width="10" height="246" rx="5"/>
<text class="t" x="626" y="347.5">129</text>
<path class="k r" d="M610,357.5H612L621,357.7H631L638,357.5H640.5"/><text class="n" x="608.5" y="359.5">0.0</text><text class="m tr" x="642" y="359.5">252796PTB</text>
<path class="k" d="M610,362.7H612L621,362.9H631L638,362.7H640.5"/><text class="n" x="608.5" y="364.7">1.5</text><text class="m" x="642" y="364.7">420090PTB1</text>
<path class="k r" d="M610,367.9H612L621,367.5H631L638,367.9H640.5"/><text class="n" x="608.5" y="369.9">2.8</text><text class="m tr" x="642" y="369.9">258268PTBy</text>
<path class="k r" d="M610,463.4H640.5"/><text class="n" x="608.5" y="465.4">30.3</text><text class="m tr" x="642" y="465.4">Msmc1282-385</text>
<path class="k" d="M610,500.1H640.5"/><text class="n" x="608.5" y="502.1">40.8</text><text class="m" x="642" y="502.1">Aaccac5</text>
<path class="k" d="M610,518.2H640.5"/><text class="n" x="608.5" y="520.2">46.0</text><text class="m" x="642" y="520.2">Acccac28</text>
<path class="k" d="M610,554.9H640.5"/><text class="n" x="608.5" y="556.9">56.5</text><text class="m" x="642" y="556.9">Aaccat32</text>
<path class="k" d="M610,594.7H640.5"/><text class="n" x="608.5" y="596.7">67.9</text><text class="m" x="642" y="596.7">Acacal41</text>
</g>

<g id="chr142">
<rect class="b" x="703" y="508.5" width="10" height="143.1" rx="5"/>
<text class="t" x="708" y="503.5">142</text>
<path class="k r" d="M694,513H721.5"/><text class="n" x="692.5" y="515">0.0</text><text class="m tr" x="723" y="515">Msscir51h</text><rect class="x" x="722" y="509.6" width="27.5" height="6.6"/>
<path class="k r" d="M694,548.3H721.5"/><text class="n" x="692.5" y="550.3">10.8</text><text class="m tr" x="723" y="550.3">Msscir32e</text><rect class="x" x="722" y="544.9" width="27.5" height="6.6"/>
<path class="k g" d="M694,647.1H721.5"/><text class="n tg" x="692.5" y="649.1">41.0</text><text class="m tg" x="723" y="649.1">Msscir53h</text>
</g>

<g id="chr152">
<rect class="b" x="784" y="459.5" width="10" height="150.6" rx="5"/>
<text class="t" x="789" y="454">152</text>
<path class="k r" d="M775,464H801.5"/><text class="n" x="773.5" y="466">0.0</text><text class="m tr" x="803" y="466">250588PTB</text><text class="m" x="834" y="466">369707PTB</text>
<path class="k" d="M775,605.6H801.5"/><text class="n" x="773.5" y="607.6">43.3</text><text class="m" x="803" y="607.6">Aggcta47</text>
</g>

<g id="chr113b">
<rect class="b" x="865" y="524.5" width="10" height="101.9" rx="5"/>
<text class="t" x="870" y="519">113</text>
<path class="k r" d="M855.5,529H883.5"/><text class="n" x="854" y="531">0.0</text><text class="m tr" x="885" y="531">Msmc2055a</text><rect class="x" x="884" y="525.6" width="32.5" height="6.6"/>
<path class="k" d="M855.5,615.3H883.5"/><text class="n" x="854" y="617.3">26.4</text><text class="m" x="885" y="617.3">Aacctc18</text>
<path class="k" d="M855.5,621.9H883.5"/><text class="n" x="854" y="623.9">28.4</text><text class="m" x="885" y="623.9">CF576900_M_fwd#1</text>
</g>
</svg>
